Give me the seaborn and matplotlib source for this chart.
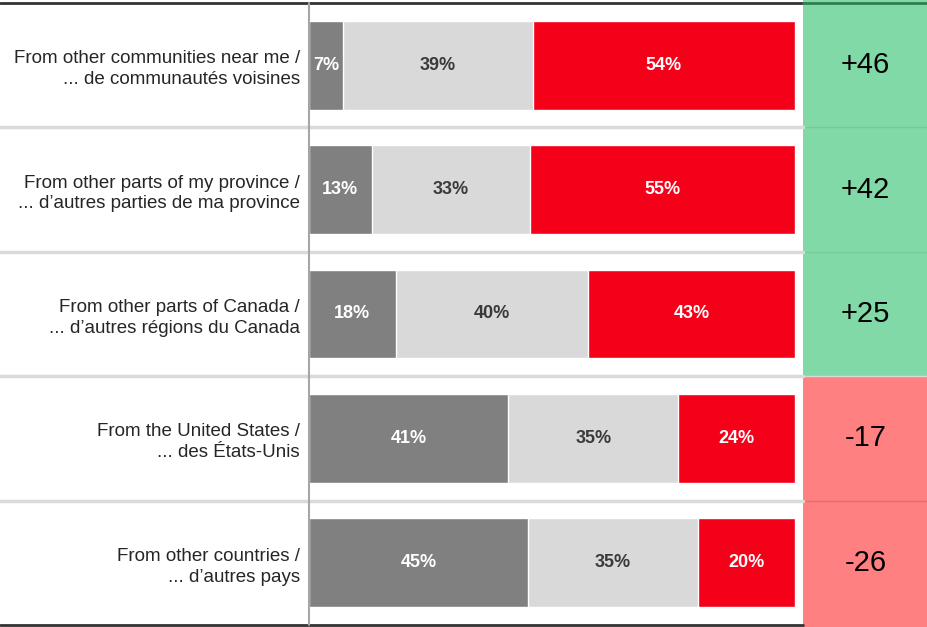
import numpy as np
import pandas as pd
import matplotlib
matplotlib.use("Agg")
import matplotlib.pyplot as plt
import seaborn as sns
from matplotlib.lines import Line2D

# Data
categories = [
    "From other communities near me /\n... de communautés voisines",
    "From other parts of my province /\n... d\u2019autres parties de ma province",
    "From other parts of Canada /\n... d\u2019autres régions du Canada",
    "From the United States /\n... des États-Unis",
    "From other countries /\n... d\u2019autres pays",
]
less_vals = [7, 13, 18, 41, 45]
same_vals = [39, 33, 40, 35, 35]
more_vals = [54, 55, 43, 24, 20]
net_scores = [46, 42, 25, -17, -26]

COL_LESS = "#808080"
COL_SAME = "#d9d9d9"
COL_MORE = "#f50019"
COL_POS = "#82d9a8"
COL_NEG = "#ff8080"

sns.set_style("white")
plt.rcParams["font.family"] = ["Liberation Sans", "DejaVu Sans"]

df = pd.DataFrame({"cat": categories, "less": less_vals, "same": same_vals, "more": more_vals})
tot = df[["less", "same", "more"]].sum(axis=1)
df["c1"] = df["less"] / tot * 100
df["c2"] = (df["less"] + df["same"]) / tot * 100
df["c3"] = 100.0

W, H = 928, 627
fig = plt.figure(figsize=(W / 100, H / 100), dpi=100)

x0, x1 = 309, 795
y_top, y_bot = 3, 625
ax = fig.add_axes([x0 / W, 1 - y_bot / H, (x1 - x0) / W, (y_bot - y_top) / H])

bw = 0.715
sns.barplot(data=df, x="c3", y="cat", color=COL_MORE, width=bw, ax=ax, saturation=1, orient="h")
sns.barplot(data=df, x="c2", y="cat", color=COL_SAME, width=bw, ax=ax, saturation=1, orient="h")
sns.barplot(data=df, x="c1", y="cat", color=COL_LESS, width=bw, ax=ax, saturation=1, orient="h")

ax.set_xlim(0, 100)
ax.set_ylim(4.5, -0.5)
ax.set_xlabel("")
ax.set_ylabel("")
ax.set_xticks([])
ax.tick_params(axis="y", length=0, pad=6.5, labelsize=13.5, labelcolor="#262626")
for lab in ax.get_yticklabels():
    lab.set_linespacing(1.3)
for s in ax.spines.values():
    s.set_visible(False)

for i, row in df.iterrows():
    starts = [0, row["c1"], row["c2"]]
    ends = [row["c1"], row["c2"], row["c3"]]
    vals = [row["less"], row["same"], row["more"]]
    cols = ["white", "#3a3a3a", "white"]
    for s0, e0, v, c in zip(starts, ends, vals, cols):
        ax.text((s0 + e0) / 2, i, f"{v}%", ha="center", va="center",
                fontsize=13, fontweight="bold", color=c)

# net score column, same rows as the bar axes
sx0 = 803
row_px = (y_bot - y_top) / 5
sax = fig.add_axes([sx0 / W, 0, (W - sx0) / W, 1])
score_cols = [COL_POS if v > 0 else COL_NEG for v in net_scores]
sax.barh(range(5), [1] * 5, height=1.0, left=0, color=score_cols, lw=0)
sax.set_xlim(0, 1)
sax.set_ylim(4.5 + (H - y_bot) / row_px, -0.5 - y_top / row_px)
sax.axis("off")
# stretch first / last cells to the figure edges
sax.barh([-0.5 - y_top / row_px / 2], [1], height=y_top / row_px, color=score_cols[0], lw=0)
sax.barh([4.5 + (H - y_bot) / row_px / 2], [1], height=(H - y_bot) / row_px, color=score_cols[-1], lw=0)
for i, v in enumerate(net_scores):
    sax.text(0.5, i, f"{v:+d}", ha="center", va="center", fontsize=21, color="black")
for k in range(1, 5):
    c = "#74cc9a" if k < 3 else "#ee6a6a"
    if k == 3:
        c = "#d9d9d9"
    sax.axhline(k - 0.5, color=c, lw=1)

# row separators
for k in range(1, 5):
    yy = 1 - (y_top + k * row_px) / H
    fig.add_artist(Line2D([0, sx0 / W], [yy, yy], color="#dadada", lw=2.5))

# top / bottom rules and vertical axis line
fig.add_artist(Line2D([0, sx0 / W], [1 - y_top / H] * 2, color="#333333", lw=2))
fig.add_artist(Line2D([sx0 / W, 1], [1 - y_top / H] * 2, color="#2e7d4f", lw=2))
fig.add_artist(Line2D([0, sx0 / W], [1 - y_bot / H] * 2, color="#333333", lw=2))
fig.add_artist(Line2D([x0 / W] * 2, [1 - y_bot / H, 1 - y_top / H], color="#a6a6a6", lw=1.5))

fig.savefig("out.png", dpi=100)
